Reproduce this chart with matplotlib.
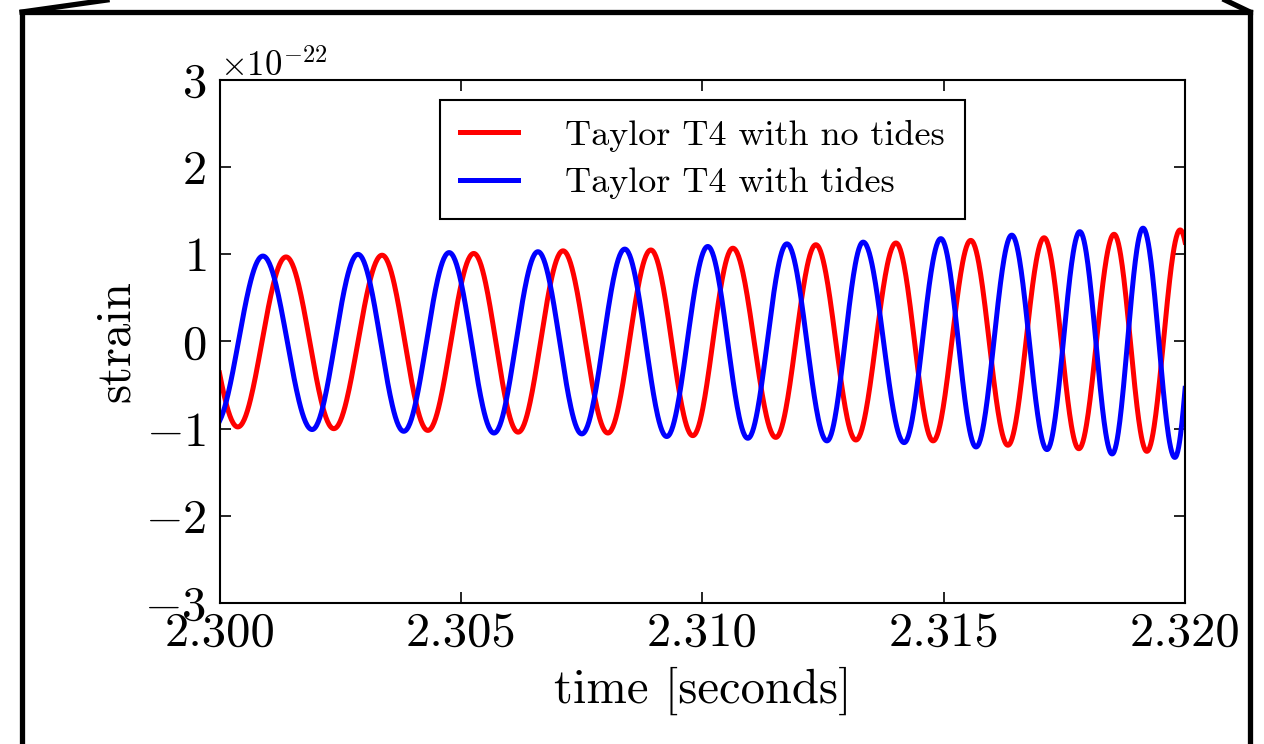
import numpy as np
import matplotlib
matplotlib.use("Agg")
import matplotlib.pyplot as plt
from matplotlib.lines import Line2D

plt.rcParams["font.family"] = "serif"
plt.rcParams["font.serif"] = ["cmr10"]
plt.rcParams["mathtext.fontset"] = "cm"
plt.rcParams["axes.formatter.use_mathtext"] = True
plt.rcParams["axes.unicode_minus"] = True

# turning points of each waveform (time in s, strain in units of 1e-22)
t_notides = [2.29938, 2.30037, 2.30137, 2.30236, 2.30336, 2.30431, 2.30526,
             2.30618, 2.30711, 2.30804, 2.30893, 2.30980, 2.31063, 2.31152,
             2.31235, 2.31318, 2.31401, 2.31478, 2.31556, 2.31633, 2.31708,
             2.31780, 2.31853, 2.31921, 2.31990, 2.32058]
h_notides = [0.95, -0.98, 0.97, -1.00, 0.99, -1.02, 1.01, -1.04, 1.04, -1.05,
             1.05, -1.08, 1.07, -1.10, 1.11, -1.13, 1.13, -1.14, 1.16, -1.19,
             1.19, -1.23, 1.23, -1.26, 1.28, -1.30]

t_tides = [2.29988, 2.30089, 2.30191, 2.30286, 2.30381, 2.30475, 2.30568,
           2.30659, 2.30750, 2.30839, 2.30926, 2.31011, 2.31094, 2.31175,
           2.31258, 2.31333, 2.31418, 2.31494, 2.31567, 2.31641, 2.31714,
           2.31782, 2.31849, 2.31913, 2.31979, 2.32037]
h_tides = [-0.97, 0.98, -1.01, 1.00, -1.03, 1.02, -1.05, 1.03, -1.06, 1.06,
           -1.09, 1.09, -1.11, 1.12, -1.14, 1.14, -1.16, 1.18, -1.21, 1.22,
           -1.24, 1.26, -1.29, 1.30, -1.33, 1.34]

labels = ["Taylor T4 with no tides", "Taylor T4 with tides"]


def smooth_wave(tp, hp, n=60):
    # join successive peaks/troughs with half cosines
    ts, hs = [], []
    for i in range(len(tp) - 1):
        f = np.linspace(0, 1, n, endpoint=False)
        ts.append(tp[i] + (tp[i + 1] - tp[i]) * f)
        hs.append(hp[i] + (hp[i + 1] - hp[i]) * (1 - np.cos(np.pi * f)) / 2)
    ts.append([tp[-1]])
    hs.append([hp[-1]])
    return np.concatenate(ts), np.concatenate(hs)


fig = plt.figure(figsize=(12.64, 7.44), dpi=100, facecolor="white")
ax = fig.add_axes([0.174, 0.1895, 0.7635, 0.703])

x1, y1 = smooth_wave(t_notides, h_notides)
x2, y2 = smooth_wave(t_tides, h_tides)
ax.plot(x1, y1 * 1e-22, color="red", lw=3.6, label=labels[0])
ax.plot(x2, y2 * 1e-22, color="blue", lw=3.6, label=labels[1])

ax.set_xlim(2.300, 2.320)
ax.set_ylim(-3e-22, 3e-22)
ax.set_xticks([2.300, 2.305, 2.310, 2.315, 2.320])
ax.set_xticklabels(["2.300", "2.305", "2.310", "2.315", "2.320"])
ax.set_yticks([k * 1e-22 for k in range(-3, 4)])

ax.tick_params(direction="in", length=8, width=1.2, labelsize=35,
               top=True, right=True)
ax.tick_params(axis="y", pad=10)
ax.tick_params(axis="x", pad=6)
ax.yaxis.get_offset_text().set_fontsize(25)
for s in ax.spines.values():
    s.set_linewidth(1.5)

ax.set_xlabel("time [seconds]", fontsize=35, labelpad=8)
ax.set_ylabel("strain", fontsize=35, labelpad=4)

leg = ax.legend(loc="upper center", fontsize=26, fancybox=False,
                framealpha=1, edgecolor="black", handlelength=1.6,
                handletextpad=1.3, borderpad=0.55, labelspacing=0.42,
                borderaxespad=0.55)
leg.get_frame().set_linewidth(1.5)

# heavy outline drawn around the whole figure
frame = [([22, 22], [744, 12]), ([22, 1250], [12, 12]),
         ([1250, 1250], [12, 744]), ([22, 107], [12, 0]),
         ([1250, 1225], [12, 0])]
for xs, ys in frame:
    fig.add_artist(Line2D([x / 1264 for x in xs], [1 - y / 744 for y in ys],
                          transform=fig.transFigure, color="black", lw=3.8,
                          solid_capstyle="projecting"))

fig.savefig("out.png", dpi=100, facecolor="white")
